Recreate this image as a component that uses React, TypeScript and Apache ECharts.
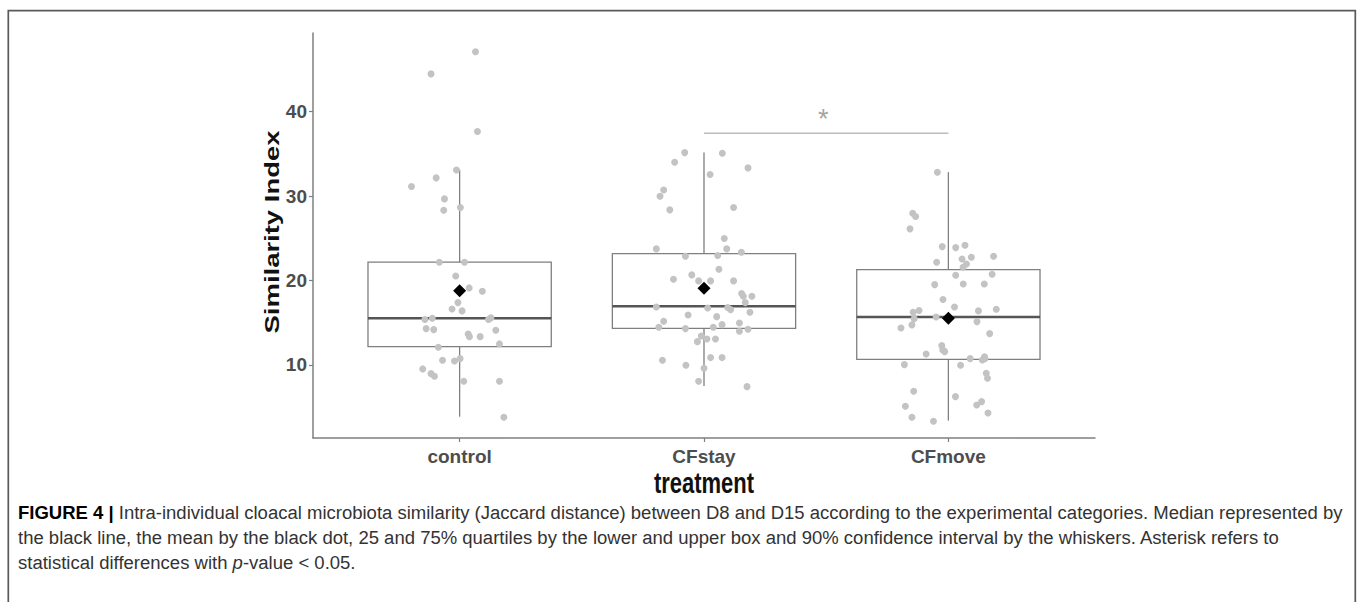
import React, { useEffect, useRef } from "react";
import * as echarts from "echarts";

// ---------- data ----------
const categories = ["control", "CFstay", "CFmove"];
const yTicks = [10, 20, 30, 40];

// [lower whisker, Q1, median, Q3, upper whisker]
const controlBox = [3.87, 12.17, 15.53, 22.17, 33.1];
const cfstayBox = [7.51, 14.34, 16.95, 23.18, 35.14];
const cfmoveBox = [3.41, 10.67, 15.68, 21.29, 32.82];
const groupMeans = [18.77, 19.08, 15.53];

// [jitter offset, similarity]
const controlPoints = [
  [0.065, 47.07], [-0.117, 44.46], [0.073, 37.63], [-0.013, 33.09], [-0.096, 32.15],
  [-0.197, 31.12], [-0.062, 29.66], [-0.065, 28.32], [0.003, 28.63], [-0.083, 22.16],
  [0.02, 22.16], [-0.016, 20.54], [0.039, 19.12], [0.093, 18.72], [-0.007, 17.38],
  [-0.031, 16.63], [0.01, 16.4], [-0.142, 15.37], [-0.112, 15.53], [0.118, 15.37],
  [0.128, 15.57], [-0.137, 14.3], [-0.106, 14.18], [0.148, 14.11], [0.035, 13.67],
  [0.04, 13.35], [0.084, 13.35], [0.163, 12.49], [-0.087, 12.09], [-0.07, 10.55],
  [-0.021, 10.47], [0.002, 10.75], [-0.151, 9.53], [-0.117, 8.97], [-0.103, 8.66],
  [0.017, 8.07], [0.163, 8.07], [0.181, 3.81],
];
const cfstayPoints = [
  [-0.079, 35.14], [0.075, 35.06], [-0.12, 34.0], [0.18, 33.33], [0.025, 32.54],
  [-0.165, 30.72], [-0.18, 29.97], [-0.14, 28.36], [0.121, 28.63], [0.083, 24.96],
  [-0.195, 23.74], [0.093, 23.74], [0.153, 23.34], [-0.076, 22.87], [0.056, 22.95],
  [0.061, 21.33], [-0.05, 20.66], [-0.125, 20.15], [-0.022, 19.95], [0.027, 19.95],
  [0.121, 19.95], [0.154, 18.45], [0.161, 18.14], [0.196, 18.14], [0.169, 17.38],
  [-0.195, 16.87], [0.015, 16.75], [0.097, 16.79], [0.109, 16.55], [0.188, 16.24],
  [-0.065, 15.92], [0.052, 15.72], [-0.165, 15.17], [0.145, 14.97], [0.074, 14.77],
  [-0.185, 14.46], [-0.076, 14.3], [0.038, 14.46], [0.18, 14.22], [0.145, 13.99],
  [-0.011, 13.43], [0.012, 13.08], [0.047, 13.08], [-0.027, 12.76], [0.027, 10.87],
  [0.074, 10.87], [-0.17, 10.55], [-0.074, 9.96], [0.0, 9.61], [-0.022, 8.07],
  [0.176, 7.43],
];
const cfmovePoints = [
  [-0.045, 32.82], [-0.146, 27.96], [-0.134, 27.57], [-0.157, 26.11], [-0.025, 24.01],
  [0.03, 23.89], [0.068, 24.17], [0.185, 22.87], [0.094, 22.75], [0.056, 22.55],
  [-0.048, 22.16], [0.074, 21.96], [0.06, 21.57], [0.03, 20.62], [0.179, 20.74],
  [-0.056, 19.51], [0.061, 19.59], [0.147, 19.59], [-0.022, 17.74], [0.025, 16.87],
  [-0.12, 16.44], [-0.144, 16.24], [0.123, 16.4], [0.196, 16.6], [-0.14, 15.48],
  [-0.05, 15.68], [0.117, 15.13], [-0.194, 14.38], [-0.149, 14.74], [0.169, 13.71],
  [-0.027, 12.29], [-0.023, 11.78], [-0.015, 11.58], [-0.091, 11.3], [0.089, 10.75],
  [0.139, 10.59], [0.148, 10.98], [0.15, 10.75], [-0.18, 10.04], [0.05, 9.96],
  [0.155, 9.02], [0.16, 8.43], [-0.142, 6.89], [0.029, 6.25], [-0.176, 5.11],
  [0.136, 5.66], [0.116, 5.26], [0.162, 4.32], [-0.149, 3.81], [-0.061, 3.33],
];

// significance bracket between CFstay (2) and CFmove (3)
const sigGroups = [2, 3];
const sigLevel = 37.44;
const sigLabel = "*";

const captionLines = [
  "{b|FIGURE 4 |} Intra-individual cloacal microbiota similarity (Jaccard distance) between D8 and D15 according to the experimental categories. Median represented by",
  "the black line, the mean by the black dot, 25 and 75% quartiles by the lower and upper box and 90% confidence interval by the whiskers. Asterisk refers to",
  "statistical differences with {i|p}-value < 0.05.",
];

const FONT = "'Liberation Sans', Arial, Helvetica, sans-serif";

function measure(text: string, font: string): number {
  const c = document.createElement("canvas");
  const ctx = c.getContext("2d")!;
  ctx.font = font;
  return ctx.measureText(text).width;
}

export default function App() {
  const ref = useRef<HTMLDivElement>(null);

  useEffect(() => {
    const chart = echarts.init(ref.current!, null, { renderer: "svg" });

    const boxes = [controlBox, cfstayBox, cfmoveBox];
    const pointSets = [controlPoints, cfstayPoints, cfmovePoints];

    const boxData = boxes.map((b, i) => [i + 1, ...b]);
    const pointData: number[][] = [];
    pointSets.forEach((pts, i) => pts.forEach(([j, v]) => pointData.push([i + 1 + j, v])));
    const meanData = groupMeans.map((m, i) => [i + 1, m]);

    // caption scale
    const capFontSize = 18;
    const l1 =
      measure("FIGURE 4 |", `bold ${capFontSize}px ${FONT}`) +
      measure(
        " Intra-individual cloacal microbiota similarity (Jaccard distance) between D8 and D15 according to the experimental categories. Median represented by",
        `${capFontSize}px ${FONT}`
      );
    const capScale = 1325 / l1;

    const yTitleFont = `bold 20px ${FONT}`;
    const yTitleScale = 203 / measure("Similarity Index", yTitleFont);

    const gray = "#7f7f7f";

    const option: any = {
      animation: false,
      backgroundColor: "#ffffff",
      grid: { left: 313, right: 263, top: 33, bottom: 164, containLabel: false },
      xAxis: {
        type: "value",
        min: 0.4,
        max: 3.6,
        splitLine: { show: false },
        axisLine: { show: true, lineStyle: { color: gray, width: 1.5 } },
        axisTick: { show: true, customValues: [1, 2, 3], length: 4, lineStyle: { color: gray, width: 1.2 } },
        axisLabel: {
          show: true,
          customValues: [1, 2, 3],
          formatter: (v: number) => categories[Math.round(v) - 1] ?? "",
          color: "#4d4d4d",
          fontFamily: FONT,
          fontWeight: "bold",
          fontSize: 19,
          margin: 9,
        },
      },
      yAxis: {
        type: "value",
        min: 1.35,
        max: 49.3,
        splitLine: { show: false },
        axisLine: { show: true, lineStyle: { color: gray, width: 1.5 } },
        axisTick: { show: true, customValues: yTicks, length: 4, lineStyle: { color: gray, width: 1.2 } },
        axisLabel: {
          show: true,
          customValues: yTicks,
          color: "#4d4d4d",
          fontFamily: FONT,
          fontWeight: "bold",
          fontSize: 19,
          margin: 6,
        },
      },
      series: [
        {
          type: "custom",
          data: boxData,
          encode: { x: 0, y: [1, 2, 3, 4, 5] },
          z: 2,
          renderItem: (params: any, api: any) => {
            const c = api.value(0);
            const lo = api.value(1);
            const q1 = api.value(2);
            const med = api.value(3);
            const q3 = api.value(4);
            const hi = api.value(5);
            const tl = api.coord([c - 0.375, q3]);
            const br = api.coord([c + 0.375, q1]);
            const mL = api.coord([c - 0.375, med]);
            const mR = api.coord([c + 0.375, med]);
            const wHi = api.coord([c, hi]);
            const wLo = api.coord([c, lo]);
            const stroke = { stroke: gray, lineWidth: 1.3, fill: "none" };
            return {
              type: "group",
              children: [
                { type: "line", shape: { x1: wHi[0], y1: wHi[1], x2: wHi[0], y2: tl[1] }, style: stroke },
                { type: "line", shape: { x1: wLo[0], y1: br[1], x2: wLo[0], y2: wLo[1] }, style: stroke },
                {
                  type: "rect",
                  shape: { x: tl[0], y: tl[1], width: br[0] - tl[0], height: br[1] - tl[1] },
                  style: stroke,
                },
                {
                  type: "line",
                  shape: { x1: mL[0], y1: mL[1], x2: mR[0], y2: mR[1] },
                  style: { stroke: "#555555", lineWidth: 2.4 },
                },
              ],
            };
          },
        },
        {
          type: "scatter",
          data: pointData,
          symbol: "circle",
          symbolSize: 7,
          itemStyle: { color: "#c3c3c3", opacity: 1 },
          z: 3,
        },
        {
          type: "scatter",
          data: meanData,
          symbol: "diamond",
          symbolSize: 13,
          itemStyle: { color: "#000000", opacity: 1 },
          z: 4,
        },
        {
          type: "line",
          data: sigGroups.map((g) => [g, sigLevel]),
          symbol: "none",
          lineStyle: { color: "#bdbdbd", width: 1.5 },
          z: 3,
        },
        {
          type: "scatter",
          data: [[(sigGroups[0] + sigGroups[1]) / 2, sigLevel]],
          symbolSize: 1,
          itemStyle: { color: "rgba(0,0,0,0)" },
          label: {
            show: true,
            formatter: () => sigLabel,
            position: "top",
            distance: 0,
            color: "#8c8c8c",
            fontSize: 27,
            fontFamily: FONT,
            offset: [-3, 0],
          },
          z: 3,
        },
      ],
      graphic: [
        {
          type: "rect",
          shape: { x: 8.3, y: 10.7, width: 1347, height: 620 },
          style: { fill: "none", stroke: "#5a5a5a", lineWidth: 1.7 },
          silent: true,
        },
        {
          type: "text",
          x: 272,
          y: 232,
          rotation: Math.PI / 2,
          scaleX: yTitleScale,
          scaleY: 1,
          style: {
            text: "Similarity Index",
            font: yTitleFont,
            fill: "#111111",
            textAlign: "center",
            textVerticalAlign: "middle",
          },
        },
        {
          type: "text",
          x: 704,
          y: 483,
          scaleX: 1,
          scaleY: 1.3,
          style: {
            text: "treatment",
            font: `bold 22px ${FONT}`,
            fill: "#111111",
            textAlign: "center",
            textVerticalAlign: "middle",
          },
        },
        ...captionLines.map((line, i) => ({
          type: "text",
          x: 18,
          y: 513 + i * 25,
          scaleX: capScale,
          scaleY: 1,
          style: {
            text: line,
            fontSize: capFontSize,
            fontFamily: FONT,
            fill: "#333333",
            textAlign: "left",
            textVerticalAlign: "middle",
            rich: {
              b: { fontWeight: "bold", fill: "#000000", fontSize: capFontSize, fontFamily: FONT },
              i: { fontStyle: "italic", fill: "#333333", fontSize: capFontSize, fontFamily: FONT },
            },
          },
        })),
      ],
    };

    chart.setOption(option);
    return () => chart.dispose();
  }, []);

  return (
    <div
      ref={ref}
      style={{ position: "fixed", left: 0, top: 0, width: 1358, height: 602, background: "#fff" }}
    />
  );
}
